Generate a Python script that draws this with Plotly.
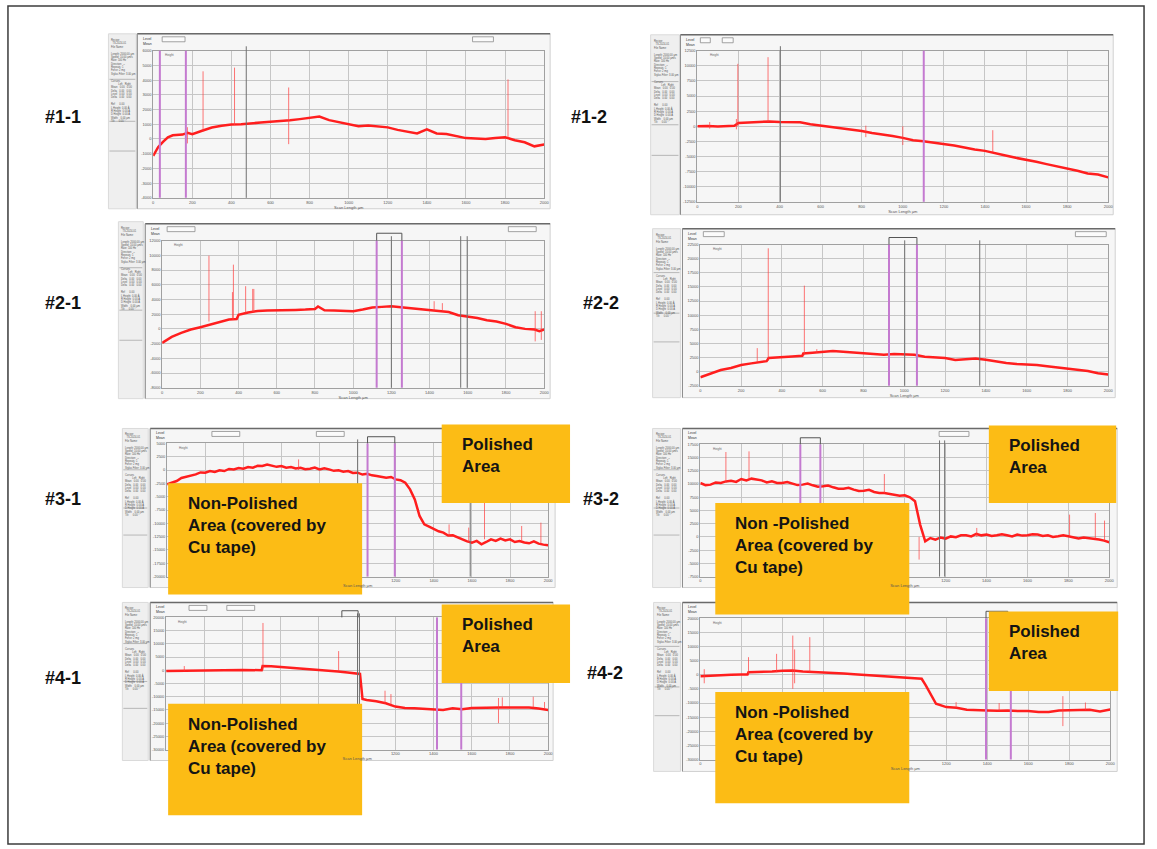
import plotly.graph_objects as go

W, H = 1157, 849

# ------------------------------------------------------------------ data
# Profile traces (scan length in um, height in A)
X_11 = [0, 25, 50, 75, 100, 150, 175, 200, 250, 300, 350, 400, 450, 500, 550, 600, 650, 700, 750, 800, 850,
        900, 950, 1000, 1050, 1100, 1150, 1200, 1250, 1300, 1350, 1400, 1450, 1500, 1550, 1600, 1650, 1700,
        1750, 1800, 1850, 1900, 1950, 2000]
Y_11 = [-1150, -560, -200, 120, 250, 300, 420, 330, 560, 780, 900, 980, 1000, 1080, 1120, 1180, 1200, 1270,
        1350, 1450, 1520, 1280, 1140, 950, 860, 920, 880, 790, 620, 520, 380, 650, 380, 340, 210, 60, 40, 0,
        60, 120, -80, -220, -500, -380]
SPK_11_X = [255, 416, 693, 1815, 175]
SPK_11_LO = [500, 950, -350, 100, -300]
SPK_11_HI = [4600, 4850, 3500, 4050, 800]
PUR_11 = [34, 167]
GRY_11 = [476]

X_12 = [0, 50, 100, 150, 180, 200, 250, 300, 350, 400, 450, 500, 550, 600, 650, 700, 750, 800, 850, 900, 950,
        1000, 1050, 1100, 1150, 1200, 1250, 1300, 1350, 1400, 1450, 1500, 1550, 1600, 1650, 1700, 1750, 1800,
        1850, 1900, 1950, 2000]
Y_12 = [0, 50, -40, 30, 80, 550, 600, 700, 800, 700, 700, 650, 330, 110, -110, -270, -500, -770, -1100, -1300,
        -1600, -1920, -2300, -2470, -2700, -2860, -3190, -3500, -3850, -4070, -4500, -4840, -5220, -5500,
        -5880, -6260, -6600, -6980, -7360, -7800, -7970, -8460]
SPK_12_X = [197, 344, 1438, 1000, 60, 820, 190]
SPK_12_LO = [0, 700, -4300, -3100, -400, -1800, -500]
SPK_12_HI = [10330, 11430, -650, 0, 700, 100, 1200]
PUR_12 = [1102]
GRY_12 = [404]

X_21 = [0, 50, 100, 150, 200, 250, 300, 350, 390, 400, 450, 500, 550, 600, 650, 700, 750, 800, 816, 850, 900,
        950, 1000, 1050, 1100, 1150, 1200, 1250, 1300, 1350, 1400, 1450, 1500, 1550, 1600, 1650, 1700, 1750,
        1800, 1850, 1900, 1950, 1975, 2000]
Y_21 = [-1900, -1090, -540, -90, 230, 590, 900, 1270, 1350, 1900, 2220, 2440, 2490, 2490, 2530, 2580, 2620,
        2710, 3050, 2530, 2500, 2440, 2400, 2620, 2900, 2990, 3080, 2940, 2800, 2620, 2580, 2440, 2300, 1850,
        1720, 1490, 1180, 1000, 680, 230, 0, -90, -300, -90]
SPK_21_X = [245, 368, 373, 437, 474, 480, 1424, 1467, 1953, 1985]
SPK_21_LO = [1000, 1250, 1250, 2200, 2300, 2300, 2500, 2400, -1700, -1500]
SPK_21_HI = [9950, 5000, 8730, 5800, 5430, 5430, 3760, 3500, 2400, 2400]
PUR_21 = [1123, 1255]
GRY_21 = [1200, 1563, 1597]

X_22 = [0, 50, 100, 150, 200, 250, 300, 325, 335, 400, 450, 500, 505, 550, 600, 650, 700, 750, 800, 850, 900,
        950, 1000, 1050, 1100, 1150, 1200, 1250, 1300, 1350, 1400, 1450, 1500, 1550, 1600, 1650, 1700, 1750,
        1800, 1850, 1900, 1950, 2000]
Y_22 = [-1000, -410, 290, 640, 1170, 1460, 1810, 1850, 2400, 2630, 2690, 2800, 3220, 3340, 3510, 3630, 3510,
        3400, 3220, 3100, 2990, 3100, 2990, 2990, 2630, 2520, 2400, 2050, 2220, 2340, 2110, 1760, 1520, 1350,
        1290, 1170, 940, 760, 590, 350, 120, -290, -530]
SPK_22_X = [279, 333, 510, 571]
SPK_22_LO = [1700, 1900, 2900, 3300]
SPK_22_HI = [4160, 21840, 15220, 3980]
PUR_22 = [925, 1062]
GRY_22 = [1002, 1370]

X_31 = [0, 25, 50, 75, 100, 125, 150, 175, 200, 225, 250, 275, 300, 325, 350, 375, 400, 425, 450, 475, 500, 525,
        550, 575, 600, 625, 650, 675, 700, 725, 750, 775, 800, 825, 850, 875, 900, 925, 950, 975, 1000, 1025,
        1050, 1075, 1100, 1125, 1150, 1175, 1200, 1225, 1250, 1275, 1300, 1325, 1350, 1375, 1400, 1425, 1450,
        1475, 1500, 1525, 1550, 1575, 1600, 1625, 1650, 1675, 1700, 1725, 1750, 1775, 1800, 1825, 1850, 1875,
        1900, 1925, 1950, 1975, 2000]
Y_31 = [-2690, -2300, -2060, -1500, -1310, -1000, -810, -450, -500, -200, -375, -50, -190, 200, 125, 380, 250,
        550, 440, 800, 750, 1050, 875, 600, 750, 450, 560, 300, 440, 150, 250, 450, 125, 350, 125, -150, -60,
        -300, -190, -550, -500, -850, -690, -1000, -1125, -1250, -1440, -1300, -1750, -1900, -2375, -3625,
        -5500, -8625, -10190, -10600, -11125, -11500, -11750, -12300, -12250, -12700, -13000, -13400, -13625,
        -13300, -13940, -13500, -13000, -13300, -12875, -13200, -13000, -13500, -13310, -13600, -13750, -13400,
        -13810, -14000, -14125]
SPK_31_X = [690, 1666, 1861, 1962, 1583, 1480]
SPK_31_LO = [0, -13000, -13300, -13800, -13600, -12400]
SPK_31_HI = [2000, -6000, -10500, -9875, -10800, -10200]
PUR_31 = [1052, 1195]
GRY_31 = [1000, 1591]

X_32 = X_31
Y_32 = [10200, 9800, 9890, 10300, 10200, 10500, 10640, 10400, 10960, 10700, 11020, 10800, 10700, 10300, 10520,
        10200, 10200, 10400, 10080, 9800, 9890, 10100, 9760, 9500, 9570, 9700, 9380, 9100, 9130, 9300, 8940,
        8700, 8750, 8900, 8500, 8300, 8310, 8100, 8000, 7800, 7870, 7500, 6740, 2330, -820, -200, -500, -100,
        -310, 100, -60, 300, 310, 100, 570, 300, 440, 200, 310, 500, 310, 100, 440, 250, 310, 500, 440, 200,
        310, 0, 130, 300, 130, -100, -310, -100, -190, -400, -500, -700, -1000]
SPK_32_X = [125, 238, 900, 1070, 1352, 1806, 1932, 1977]
SPK_32_LO = [10300, 11000, 8300, -4280, 0, 100, -300, -700]
SPK_32_HI = [16060, 16180, 11900, 0, 1700, 4220, 4530, 3090]
PUR_32 = [489, 587]
GRY_32 = [1170, 1195]

X_41 = [0, 100, 200, 300, 400, 500, 505, 550, 600, 650, 700, 750, 800, 850, 900, 950, 1000, 1015, 1028, 1050,
        1100, 1150, 1200, 1250, 1300, 1350, 1400, 1450, 1500, 1550, 1600, 1650, 1700, 1750, 1800, 1850, 1900,
        1950, 2000]
Y_41 = [-250, -125, 0, 0, 125, 0, 1625, 1500, 1250, 1000, 750, 500, 250, -250, -500, -875, -1250, -1400,
        -10875, -11250, -11750, -12500, -13750, -14250, -14375, -14500, -14750, -15000, -14375, -14750, -14250,
        -14125, -14000, -14125, -14125, -14000, -14125, -14500, -15000]
SPK_41_X = [95, 507, 903, 1146, 1177, 1740, 1760, 1922, 1981]
SPK_41_LO = [-200, 0, -300, -12600, -13000, -20000, -14000, -14000, -14500]
SPK_41_HI = [1600, 17875, 7250, -7750, -9000, -10500, -10250, -10000, -12000]
PUR_41 = [1418, 1545]
GRY_41 = [1002, 1012]

X_42 = [0, 50, 100, 150, 200, 230, 235, 300, 350, 400, 450, 500, 550, 600, 650, 700, 750, 800, 850, 900, 950,
        1000, 1050, 1080, 1100, 1125, 1150, 1200, 1250, 1300, 1350, 1400, 1450, 1500, 1550, 1600, 1650, 1700,
        1750, 1800, 1850, 1900, 1950, 2000]
Y_42 = [-470, -240, -240, 0, 120, 120, 940, 940, 1180, 1415, 1530, 1180, 1060, 940, 710, 470, 240, 0, -240,
        -470, -710, -940, -1180, -1415, -3770, -7310, -10260, -11440, -11675, -12380, -12620, -12620, -12740,
        -12620, -12850, -12850, -13200, -13200, -12620, -12620, -12500, -12380, -12970, -12260]
SPK_42_X = [19, 235, 372, 451, 460, 534, 1248, 1458, 1769, 1879]
SPK_42_LO = [-3000, 300, 900, -4950, -3000, 1000, -11700, -12700, -18160, -12500]
SPK_42_HI = [2000, 6250, 7430, 13900, 9000, 13330, -9670, -10000, -7550, -9800]
PUR_42 = [1394, 1515]
GRY_42 = []

SAMPLE_LABELS = ["#1-1", "#1-2", "#2-1", "#2-2", "#3-1", "#3-2", "#4-1", "#4-2"]
Y_RANGES = [(-4000, 6000), (-12500, 12500), (-8000, 12000), (-2500, 22500),
            (-20000, 5000), (-7500, 17500), (-30000, 20000), (-30000, 20000)]
Y_STEPS = [1000, 2500, 2000, 2500, 2500, 2500, 5000, 5000]
X_TICKS = [0, 200, 400, 600, 800, 1000, 1200, 1400, 1600, 1800, 2000]
POLISHED_TEXT = "Polished<br>Area"
NONPOLISHED_TEXT = "Non-Polished<br>Area (covered by<br>Cu tape)"
NONPOLISHED_TEXT_R = "Non -Polished<br>Area (covered by<br>Cu tape)"

DATA = [
    (X_11, Y_11, SPK_11_X, SPK_11_LO, SPK_11_HI, PUR_11, GRY_11),
    (X_12, Y_12, SPK_12_X, SPK_12_LO, SPK_12_HI, PUR_12, GRY_12),
    (X_21, Y_21, SPK_21_X, SPK_21_LO, SPK_21_HI, PUR_21, GRY_21),
    (X_22, Y_22, SPK_22_X, SPK_22_LO, SPK_22_HI, PUR_22, GRY_22),
    (X_31, Y_31, SPK_31_X, SPK_31_LO, SPK_31_HI, PUR_31, GRY_31),
    (X_32, Y_32, SPK_32_X, SPK_32_LO, SPK_32_HI, PUR_32, GRY_32),
    (X_41, Y_41, SPK_41_X, SPK_41_LO, SPK_41_HI, PUR_41, GRY_41),
    (X_42, Y_42, SPK_42_X, SPK_42_LO, SPK_42_HI, PUR_42, GRY_42),
]

# ------------------------------------------------------------------ layout (pixels)
PANELS = [
    dict(side=(108, 136, 31, 207), frame=(137, 552, 31, 207), plot=(153, 546, 48, 196),
         buttons=[(162, 185), (474, 495)], label=(62, 115), bracket=None),
    dict(side=(653, 682, 32, 213), frame=(683, 1118, 32, 213), plot=(700, 1113, 48, 200),
         buttons=[(703, 713), (725, 736)], label=(591, 115), bracket=None),
    dict(side=(118, 143, 220, 398), frame=(145, 552, 222, 398), plot=(162, 546, 239, 387),
         buttons=[(167, 195), (510, 538)], label=(62, 302), bracket=(1123, 1255)),
    dict(side=(655, 683, 227, 397), frame=(685, 1120, 227, 397), plot=(703, 1113, 243, 385),
         buttons=[(706, 727), (1080, 1111)], label=(603, 302), bracket=(925, 1062)),
    dict(side=(122, 148, 428, 588), frame=(150, 557, 428, 588), plot=(167, 550, 443, 577),
         buttons=[(212, 240), (317, 345)], label=(62, 499), bracket=(1052, 1195)),
    dict(side=(655, 683, 428, 588), frame=(685, 1122, 428, 588), plot=(703, 1114, 444, 577),
         buttons=[(943, 973)], label=(603, 499), bracket=(489, 587)),
    dict(side=(122, 148, 603, 762), frame=(150, 555, 603, 762), plot=(166, 550, 618, 751),
         buttons=[(189, 207), (227, 255)], label=(62, 679), bracket=(920, 1005)),
    dict(side=(656, 683, 603, 773), frame=(685, 1122, 603, 773), plot=(703, 1115, 619, 761),
         buttons=[], label=(607, 674), bracket=(1394, 1500)),
]

ORANGE_BOXES = [  # (x0, x1, y0, y1, text)
    (443, 572, 424, 503, POLISHED_TEXT), (168, 363, 483, 595, NONPOLISHED_TEXT),
    (993, 1121, 425, 503, POLISHED_TEXT), (718, 913, 503, 615, NONPOLISHED_TEXT_R),
    (443, 572, 605, 684, POLISHED_TEXT), (168, 363, 705, 817, NONPOLISHED_TEXT),
    (993, 1123, 612, 692, POLISHED_TEXT), (718, 913, 693, 805, NONPOLISHED_TEXT_R),
]

SIDEBAR_TEXT = ("Recipe:<br>  TS-2024-01<br>File Name:<br><br>Length: 2000.00 µm<br>Speed: 10.00 µm/s<br>"
                "Rate: 100 Hz<br>Direction: →<br>Repeats: 1<br>Force: 2 mg<br>Stylus Filter: 3.00 µm<br><br>"
                "Cursors<br>          Left   Right<br>Mean   0.00   0.00<br>Delta   0.00   0.00<br>"
                "Level   0.00   0.00<br>Delta   0.00   0.00<br><br>Ref      0.00<br>L Height  0.00 Å<br>"
                "R Height  0.00 Å<br>D Height  0.00 Å<br>Width    0.00 µm<br>Tilt      0.00 °")

FONT = "Arial, 'Liberation Sans', sans-serif"


def fx(x):
    return x / W


def fy(y):
    return 1 - y / H


def covered(xpix, ypix):
    for b in ORANGE_BOXES:
        if b[0] - 3 <= xpix <= b[1] + 3 and b[2] <= ypix <= b[3]:
            return True
    return False


fig = go.Figure()
shapes = []
annotations = []

# outer frame of the figure
shapes.append(dict(type="rect", xref="paper", yref="paper", x0=fx(7), x1=fx(1149), y0=fy(846), y1=fy(3),
                   line=dict(color="#3c3c3c", width=1.5), fillcolor="rgba(0,0,0,0)", layer="below"))

for i, (p, d) in enumerate(zip(PANELS, DATA)):
    n = i + 1
    sfx = "" if n == 1 else str(n)
    xr, yr = "x" + sfx, "y" + sfx
    xs, ys, sx, slo, shi, pur, gry = d
    px0, px1, py0, py1 = p["plot"]
    ylo, yhi = Y_RANGES[i]

    # tick labels hidden under the call-out boxes are left blank
    xtext = []
    for t in X_TICKS:
        xp = px0 + (px1 - px0) * t / 2000.0
        xtext.append("" if covered(xp, py1 + 4) else str(t))
    yvals = list(range(ylo, yhi + 1, Y_STEPS[i]))
    ytext = []
    for v in yvals:
        yp = py1 - (py1 - py0) * (v - ylo) / (yhi - ylo)
        ytext.append("" if covered(px0 - 8, yp) else str(v))

    fig.layout["xaxis" + sfx] = dict(
        domain=[fx(px0), fx(px1)], range=[0, 2000], anchor=yr, tickvals=X_TICKS, ticktext=xtext,
        showgrid=True, gridcolor="#c6c6c6", gridwidth=1, showline=True, linecolor="#a0a0a0", linewidth=1,
        mirror=True, zeroline=False, ticks="", tickfont=dict(size=4, color="#555", family=FONT),
        title=dict(text="Scan Length µm", font=dict(size=4, color="#555", family=FONT), standoff=1),
        fixedrange=True)
    fig.layout["yaxis" + sfx] = dict(
        domain=[fy(py1), fy(py0)], range=[ylo, yhi], anchor=xr, tickvals=yvals, ticktext=ytext,
        showgrid=True, gridcolor="#c6c6c6", gridwidth=1, showline=True, linecolor="#a0a0a0", linewidth=1,
        mirror=True, zeroline=False, ticks="", tickfont=dict(size=4, color="#555", family=FONT),
        fixedrange=True)

    # screenshot chrome
    s0, s1, s2, s3 = p["side"]
    f0, f1, f2, f3 = p["frame"]
    shapes.append(dict(type="rect", xref="paper", yref="paper", x0=fx(s0), x1=fx(s1), y0=fy(s3), y1=fy(s2),
                       fillcolor="#efefef", line=dict(color="#dadada", width=1), layer="below"))
    for yy in (0.26, 0.5, 0.67):
        yline = s2 + (s3 - s2) * yy
        shapes.append(dict(type="line", xref="paper", yref="paper", x0=fx(s0 + 1), x1=fx(s1 - 1),
                           y0=fy(yline), y1=fy(yline), line=dict(color="#a8a8a8", width=0.8), layer="below"))
    shapes.append(dict(type="rect", xref="paper", yref="paper", x0=fx(f0), x1=fx(f1), y0=fy(f3), y1=fy(f2),
                       fillcolor="#f6f6f6", line=dict(color="#d0d0d0", width=1), layer="below"))
    shapes.append(dict(type="line", xref="paper", yref="paper", x0=fx(f0), x1=fx(f1), y0=fy(f2), y1=fy(f2),
                       line=dict(color="#6a6a6a", width=1.5), layer="below"))
    shapes.append(dict(type="line", xref="paper", yref="paper", x0=fx(f0), x1=fx(f0), y0=fy(f3), y1=fy(f2),
                       line=dict(color="#8a8a8a", width=1), layer="below"))
    for b0, b1 in p["buttons"]:
        shapes.append(dict(type="rect", xref="paper", yref="paper", x0=fx(b0), x1=fx(b1),
                           y0=fy(f2 + 8), y1=fy(f2 + 3), fillcolor="#fbfbfb",
                           line=dict(color="#8c8c8c", width=0.8), layer="below"))
    annotations.append(dict(xref="paper", yref="paper", x=fx(f0 + 4), y=fy(f2 + 1), xanchor="left",
                            yanchor="top", text="Level<br>Mean", showarrow=False, align="left",
                            font=dict(size=3.5, color="#333", family=FONT)))
    annotations.append(dict(xref="paper", yref="paper", x=fx(s0 + 1), y=fy(s2 + 2), xanchor="left",
                            yanchor="top", text=SIDEBAR_TEXT, showarrow=False, align="left",
                            font=dict(size=2.6, color="#555", family=FONT)))
    annotations.append(dict(xref=xr + " domain", yref=yr + " domain", x=0.025, y=0.995, xanchor="left",
                            yanchor="top", text="Height", showarrow=False,
                            font=dict(size=3, color="#666", family=FONT)))

    # main profile
    fig.add_trace(go.Scatter(x=xs, y=ys, mode="lines", xaxis=xr, yaxis=yr, hoverinfo="skip",
                             line=dict(color="#ff1e1e", width=2.5), showlegend=False))
    # isolated spikes
    spx, spy = [], []
    for a, lo, hi in zip(sx, slo, shi):
        spx += [a, a, None]
        spy += [lo, hi, None]
    fig.add_trace(go.Scatter(x=spx, y=spy, mode="lines", xaxis=xr, yaxis=yr, hoverinfo="skip",
                             line=dict(color="rgba(255,60,60,0.7)", width=1), showlegend=False))

    # cursor lines
    for g in gry:
        shapes.append(dict(type="line", xref=xr, yref=yr + " domain", x0=g, x1=g, y0=0, y1=1.03,
                           line=dict(color="#707070", width=1), layer="above"))
    for c in pur:
        shapes.append(dict(type="line", xref=xr, yref=yr + " domain", x0=c, x1=c, y0=0, y1=1.0,
                           line=dict(color="#c47ad0", width=2), layer="above"))
    if p["bracket"]:
        b0, b1 = p["bracket"]
        shapes.append(dict(type="path", xref=xr, yref=yr + " domain",
                           path=f"M {b0},1 L {b0},1.05 L {b1},1.05 L {b1},1",
                           line=dict(color="#555", width=1), layer="above"))

    # sample label
    lx, ly = p["label"]
    annotations.append(dict(xref="paper", yref="paper", x=fx(lx), y=fy(ly), text="<b>" + SAMPLE_LABELS[i] + "</b>",
                            showarrow=False, xanchor="center", yanchor="middle",
                            font=dict(size=18, color="#111", family=FONT)))

# orange call-out boxes
for x0, x1, y0, y1, txt in ORANGE_BOXES:
    shapes.append(dict(type="rect", xref="paper", yref="paper", x0=fx(x0), x1=fx(x1), y0=fy(y1), y1=fy(y0),
                       fillcolor="#fcbc15", line=dict(width=0), layer="above"))
    annotations.append(dict(xref="paper", yref="paper", x=fx(x0 + 18), y=fy(y0 + 9), xanchor="left",
                            yanchor="top", text="<b>" + txt + "</b>", showarrow=False, align="left",
                            font=dict(size=17, color="#141414", family=FONT)))

fig.update_layout(width=W, height=H, margin=dict(l=0, r=0, t=0, b=0), paper_bgcolor="white",
                  plot_bgcolor="white", shapes=shapes, annotations=annotations, showlegend=False)

fig.write_html("out.html", config={"displayModeBar": False, "staticPlot": True},
               post_script="document.body.style.margin='0px';document.body.style.overflow='hidden';")
